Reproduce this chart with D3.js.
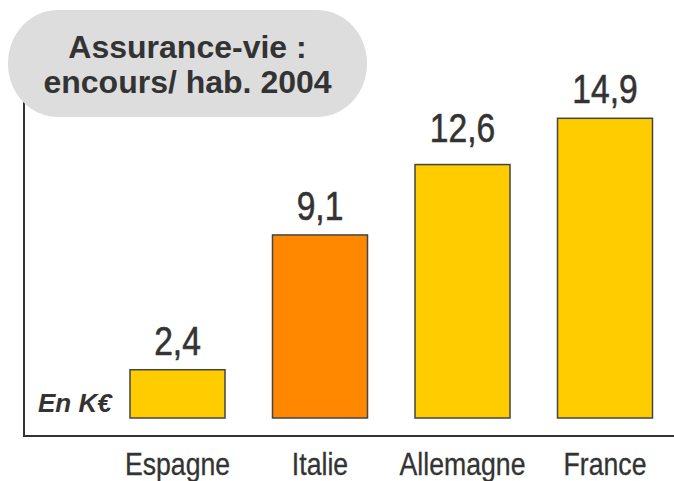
<!DOCTYPE html>
<html>
<head>
<meta charset="utf-8">
<script src="https://cdn.jsdelivr.net/npm/d3@7"></script>
<style>
  html, body { margin: 0; padding: 0; background: #ffffff; }
  svg { display: block; }
</style>
</head>
<body>
<svg id="chart" width="674" height="481"></svg>
<script>
// Life-insurance outstanding per inhabitant, 2004 (thousand euros)
const categories = ["Espagne", "Italie", "Allemagne", "France"];
const values = [2.4, 9.1, 12.6, 14.9];
const valueLabels = ["2,4", "9,1", "12,6", "14,9"];
const titleLines = ["Assurance-vie :", "encours/ hab. 2004"];
const unitLabel = "En K€";

const highlighted = "Italie";
const colorMain = "#ffcc00";
const colorHighlight = "#ff8800";
const textColor = "#333333";
const regular = "'Liberation Sans', Arial, sans-serif";
// condensed look for the value and category labels
const narrowScale = 0.82;
const catScale = 0.86;

const svg = d3.select("#chart");

const x = d3.scaleBand()
  .domain(categories)
  .range([130, 652.5])
  .paddingInner(1 / 3)
  .paddingOuter(0);

const y = d3.scaleLinear()
  .domain([0, 14.9])
  .range([418, 118.3]);

// axis frame: left and bottom lines
svg.append("line")
  .attr("x1", 24).attr("x2", 24)
  .attr("y1", 95).attr("y2", 437)
  .attr("stroke", "#333").attr("stroke-width", 2);
svg.append("line")
  .attr("x1", 23).attr("x2", 674)
  .attr("y1", 436).attr("y2", 436)
  .attr("stroke", "#333").attr("stroke-width", 2);

// bars
svg.selectAll("rect.bar")
  .data(categories)
  .join("rect")
  .attr("class", "bar")
  .attr("x", d => x(d))
  .attr("width", x.bandwidth())
  .attr("y", (d, i) => y(values[i]))
  .attr("height", (d, i) => y(0) - y(values[i]))
  .attr("fill", d => d === highlighted ? colorHighlight : colorMain)
  .attr("stroke", "#444")
  .attr("stroke-width", 1.5);

// value labels above bars
const labelLift = { "Allemagne": 8 };
svg.selectAll("text.value")
  .data(categories)
  .join("text")
  .attr("class", "value")
  .attr("transform", (d, i) =>
    `translate(${x(d) + x.bandwidth() / 2},${y(values[i]) - 15 - (labelLift[d] || 0)}) scale(${narrowScale},1)`)
  .attr("text-anchor", "middle")
  .attr("font-family", regular)
  .attr("font-size", 41)
  .attr("fill", textColor)
  .attr("stroke", textColor)
  .attr("stroke-width", 0.6)
  .text((d, i) => valueLabels[i]);

// category labels
svg.selectAll("text.cat")
  .data(categories)
  .join("text")
  .attr("class", "cat")
  .attr("transform", d => `translate(${x(d) + x.bandwidth() / 2},475) scale(${catScale},1)`)
  .attr("text-anchor", "middle")
  .attr("font-family", regular)
  .attr("font-size", 31)
  .attr("fill", textColor)
  .attr("stroke", textColor)
  .attr("stroke-width", 0.3)
  .text(d => d);

// unit label
svg.append("text")
  .attr("x", 38)
  .attr("y", 411.5)
  .attr("font-family", regular)
  .attr("font-size", 26)
  .attr("font-weight", "bold")
  .attr("font-style", "italic")
  .attr("fill", textColor)
  .text(unitLabel);

// title pill
svg.append("rect")
  .attr("x", 8).attr("y", 10)
  .attr("width", 359).attr("height", 107)
  .attr("rx", 50).attr("ry", 53)
  .attr("fill", "#dddddd");

svg.selectAll("text.title")
  .data(titleLines)
  .join("text")
  .attr("class", "title")
  .attr("x", 187.5)
  .attr("y", (d, i) => 57.5 + i * 35)
  .attr("text-anchor", "middle")
  .attr("font-family", regular)
  .attr("font-size", 32)
  .attr("font-weight", "bold")
  .attr("fill", textColor)
  .text(d => d);
</script>
</body>
</html>
